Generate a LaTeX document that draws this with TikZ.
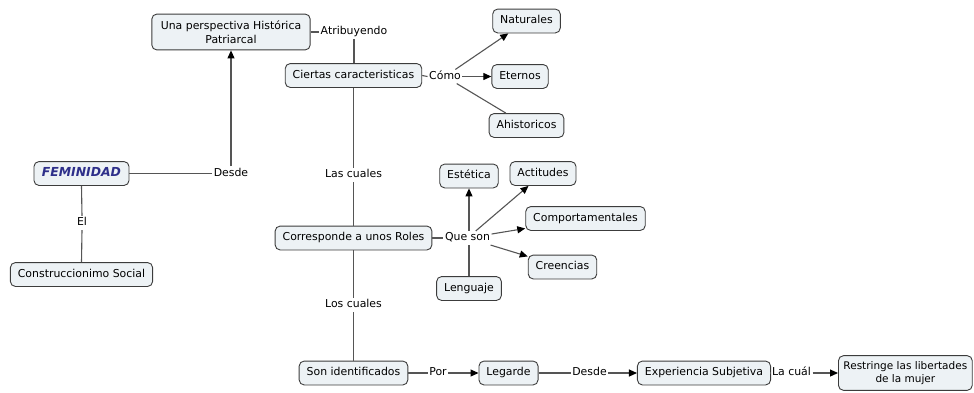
\documentclass[tikz,border=0pt]{standalone}
\usepackage{fontspec}
\setmainfont{DejaVu Sans}
\usetikzlibrary{arrows.meta,calc}
\definecolor{boxfill}{HTML}{EDF2F5}
\definecolor{boxline}{HTML}{3C3C3C}
\definecolor{conn}{HTML}{555555}
\definecolor{femblue}{HTML}{2E2F8A}
\begin{document}
\begin{tikzpicture}[x=1pt,y=-1pt,
 txt/.style={font=\fontsize{10.9}{14}\selectfont},
 concept/.style={txt, draw=boxline, fill=boxfill, rounded corners=5pt, line width=0.9pt, inner xsep=7.5pt, inner ysep=6.6pt, text height=8.3pt, text depth=2.4pt},
 concepttwo/.style={txt, draw=boxline, fill=boxfill, rounded corners=5pt, line width=0.9pt, inner xsep=9pt, inner ysep=6.5pt, align=center},
 lbl/.style={txt, inner sep=1.5pt, text height=8.3pt, text depth=2.4pt},
 ln/.style={draw=conn, line width=1.1pt},
 arr/.style={ln, -{Triangle[length=8pt,width=7pt,color=black]}}]
\useasboundingbox (0,0) rectangle (974,392);

\node[concepttwo] (per) at (231,32) {Una perspectiva Histórica\\Patriarcal};
\node[lbl] (atr) at (354,32) {Atribuyendo};
\node[concept] (cie) at (353.5,75.5) {Ciertas caracteristicas};
\node[lbl] (como) at (445,76.5) {Cómo};
\node[concept] (nat) at (526.5,21) {Naturales};
\node[concept] (ete) at (520,76.5) {Eternos};
\node[concept] (ahi) at (526.5,125.5) {Ahistoricos};
\node[concept, font=\fontsize{12.4}{14}\selectfont\bfseries\itshape, text=femblue, inner xsep=8pt] (fem) at (81.5,173.5) {FEMINIDAD};
\node[lbl] (des1) at (231,173.5) {Desde};
\node[lbl] (el) at (82,223) {El};
\node[concept] (con) at (81.5,274.5) {Construccionimo Social};
\node[lbl] (lasc) at (353.5,175) {Las cuales};
\node[concept] (cor) at (353.5,238) {Corresponde a unos Roles};
\node[lbl] (que) at (467.5,238) {Que son};
\node[concept] (est) at (469,176) {Estética};
\node[concept] (act) at (543,173.5) {Actitudes};
\node[concept] (com) at (585.5,218.5) {Comportamentales};
\node[concept] (cre) at (562.5,267) {Creencias};
\node[concept] (len) at (469,288.5) {Lenguaje};
\node[lbl] (losc) at (353.5,305) {Los cuales};
\node[concept] (son) at (353.5,373) {Son identificados};
\node[lbl] (por) at (438,373) {Por};
\node[concept] (leg) at (508.5,373) {Legarde};
\node[lbl] (des2) at (589.5,373) {Desde};
\node[concept] (exp) at (704,373) {Experiencia Subjetiva};
\node[lbl] (lac) at (791.5,373) {La cuál};
\node[concepttwo, anchor=west, inner ysep=5.5pt, inner xsep=5pt, font=\fontsize{10.5}{13.5}\selectfont] (res) at (838,373) {Restringe las libertades\\de la mujer};

\draw[ln] (per.east) -- (atr.west);
\draw[ln] (atr.south) -- (atr.south |- cie.north);
\draw[ln] (cie.south) -- (lasc.north);
\draw[ln] (lasc.south) -- (cor.north);
\draw[ln] (cor.south) -- (losc.north);
\draw[ln] (losc.south) -- (son.north);
\draw[ln] (cie.east) -- (como.west);
\draw[arr] (como) -- (nat);
\draw[arr] (como.east) -- (ete.west);
\draw[ln] (como) -- (ahi);
\draw[ln] (fem.east) -- (des1.west);
\draw[arr] (des1.north) -- (per.south);
\draw[ln] (fem.south) -- (el.north);
\draw[ln] (el.south) -- (con.north);
\draw[ln] (cor.east) -- (que.west);
\draw[arr] (que.north -| est) -- (est.south);
\draw[ln] (len.north) -- (len.north |- que.south);
\draw[arr] (que) -- (act);
\draw[arr] (que) -- (com);
\draw[arr] (que) -- (cre);
\draw[ln] (son.east) -- (por.west);
\draw[arr] (por.east) -- (leg.west);
\draw[ln] (leg.east) -- (des2.west);
\draw[arr] (des2.east) -- (exp.west);
\draw[ln] (exp.east) -- (lac.west);
\draw[arr] (lac.east) -- (res.west);
\end{tikzpicture}
\end{document}
